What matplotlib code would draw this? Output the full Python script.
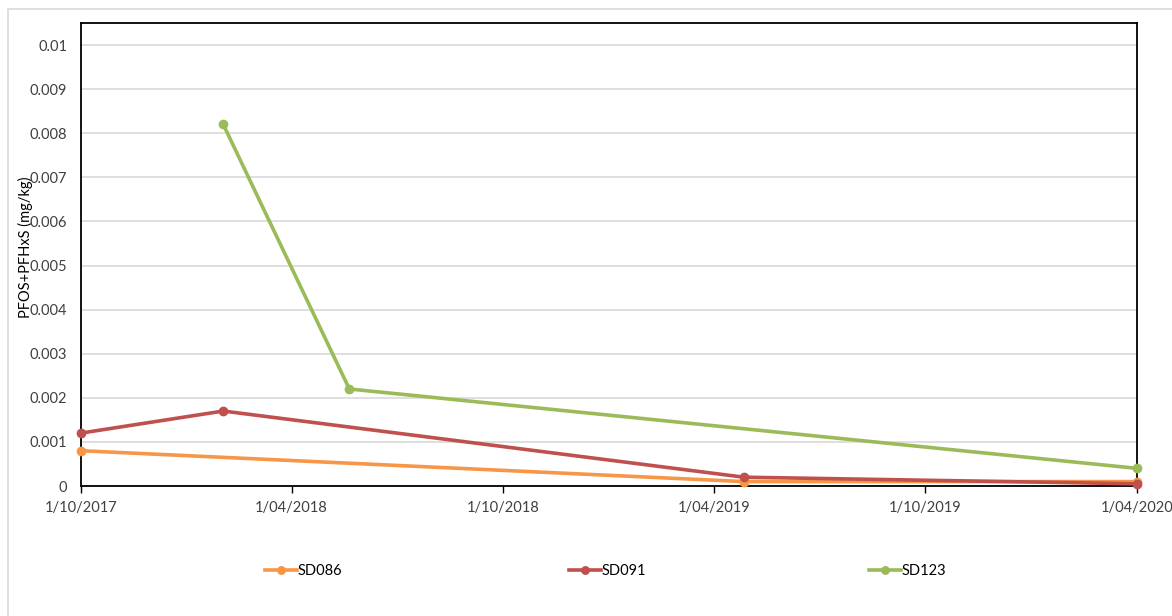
import matplotlib
matplotlib.use("Agg")
import matplotlib.pyplot as plt
import matplotlib.dates as mdates
import numpy as np
import pandas as pd

plt.rcParams["font.family"] = ["Lato", "DejaVu Sans"]

# sample dates and PFOS+PFHxS results per site
sd086_dates = ["2017-10-01", "2019-04-27", "2020-04-01"]
sd086_vals = [0.0008, 0.0001, 0.0001]

sd091_dates = ["2017-10-01", "2018-02-01", "2019-04-27", "2020-04-01"]
sd091_vals = [0.0012, 0.0017, 0.0002, 0.00005]

sd123_dates = ["2018-02-01", "2018-05-21", "2020-04-01"]
sd123_vals = [0.0082, 0.0022, 0.0004]

x_ticks = ["2017-10-01", "2018-04-01", "2018-10-01", "2019-04-01", "2019-10-01", "2020-04-01"]
y_ticks = [0, 0.001, 0.002, 0.003, 0.004, 0.005, 0.006, 0.007, 0.008, 0.009, 0.01]
y_tick_labels = ["0", "0.001", "0.002", "0.003", "0.004", "0.005", "0.006", "0.007", "0.008", "0.009", "0.01"]

series = [
    ("SD086", sd086_dates, sd086_vals, "#F79646"),
    ("SD091", sd091_dates, sd091_vals, "#C0504D"),
    ("SD123", sd123_dates, sd123_vals, "#9BBB59"),
]

fig = plt.figure(figsize=(11.72, 6.16), dpi=100)
ax = fig.add_axes([81 / 1172, 1 - 486 / 616, (1137 - 81) / 1172, (486 - 23) / 616])

# light outer chart border
fig.patches.append(plt.Rectangle((8 / 1172, -0.05), 1.1, 1 - 9 / 616 + 0.05,
                                 transform=fig.transFigure, fill=False,
                                 edgecolor="#D9D9D9", linewidth=1.2))

handles = []
for name, dates, vals, color in series:
    h, = ax.plot(pd.to_datetime(dates), vals, color=color, linewidth=2.6,
                 marker="o", markersize=6, label=name, clip_on=False, zorder=3)
    handles.append(h)

ax.set_xlim(pd.Timestamp(x_ticks[0]), pd.Timestamp(x_ticks[-1]))
ax.set_ylim(0, 0.0105)
ax.set_xticks(pd.to_datetime(x_ticks))
ax.xaxis.set_major_formatter(mdates.DateFormatter("%-d/%m/%Y"))
ax.set_yticks(y_ticks)
ax.set_yticklabels(y_tick_labels)

ax.grid(axis="y", color="#D9D9D9", linewidth=1.2)
ax.set_axisbelow(True)
for s in ax.spines.values():
    s.set_color("black")
    s.set_linewidth(1.3)
ax.tick_params(axis="x", direction="out", length=5, width=1, colors="black",
               labelsize=10.5, labelcolor="#404040", pad=6)
ax.tick_params(axis="y", length=0, labelsize=10.5, labelcolor="#404040", pad=10)

fig.text(25 / 1172, 1 - 247 / 616, "PFOS+PFHxS (mg/kg)", rotation=90,
         ha="center", va="center", fontsize=10.5, color="black")

# legend entries spread along the bottom
for h, xpos in zip(handles, [265, 569, 869]):
    fig.legend(handles=[h], loc="center left",
               bbox_to_anchor=(xpos / 1172, 1 - 571 / 616), frameon=False,
               fontsize=10.5, handlelength=2.2, handletextpad=0.0,
               borderpad=0, borderaxespad=0, markerscale=0.9)

fig.savefig("out.png", dpi=100)
